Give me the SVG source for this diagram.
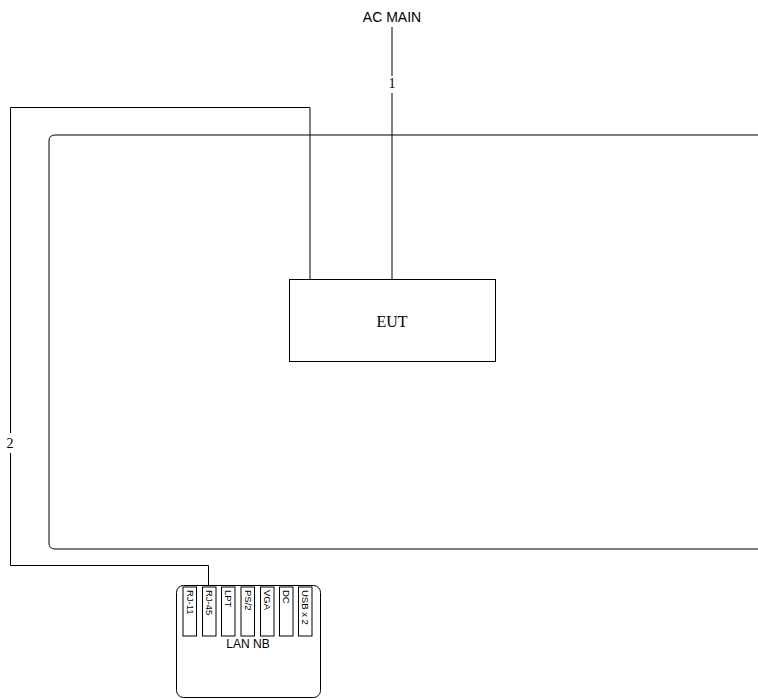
<svg xmlns="http://www.w3.org/2000/svg" width="758" height="699" viewBox="0 0 758 699">
<style>
.ln{fill:none;stroke:#000;stroke-width:1}
.bx{fill:#fff;stroke:#000;stroke-width:1}
.sans{font-family:"Liberation Sans",Arial,sans-serif;fill:#000}
.serif{font-family:"Liberation Serif","Times New Roman",serif;fill:#000}
.port{font-family:"Liberation Sans",Arial,sans-serif;font-size:9.5px;fill:#000}
</style>
<rect width="758" height="699" fill="#fff"/>
<g id="room">
<path class="ln" d="M770,135 H55 Q49,135 49,141 V543 Q49,549 55,549 H770" stroke="#333"/>
</g>
<g id="connectors">
<path class="ln" d="M392,27 V76 M392,93 V279"/>
<text class="serif" x="392" y="88" font-size="14" text-anchor="middle">1</text>
<path class="ln" d="M310,279 V107.5 H10.5 V433 M10.5,453 V565.5 H208.5 V586"/>
<text class="serif" x="10" y="448" font-size="14" text-anchor="middle">2</text>
</g>
<g id="ac-main">
<text class="sans" x="392" y="22" font-size="14" text-anchor="middle">AC MAIN</text>
</g>
<g id="eut">
<rect class="bx" x="289.5" y="279.5" width="206" height="82"/>
<text class="serif" x="392" y="327" font-size="16" text-anchor="middle">EUT</text>
</g>
<g id="lan-nb">
<rect class="bx" x="176.5" y="585.5" width="144" height="112" rx="7"/>
<rect class="bx" x="183" y="587" width="13.5" height="49"/>
<rect class="bx" x="202.5" y="587" width="13.5" height="49"/>
<rect class="bx" x="221.5" y="587" width="13.5" height="49"/>
<rect class="bx" x="241" y="587" width="13.5" height="49"/>
<rect class="bx" x="260.5" y="587" width="13.5" height="49"/>
<rect class="bx" x="279.5" y="587" width="13.5" height="49"/>
<rect class="bx" x="298.5" y="587" width="13.5" height="49"/>
<text class="port" transform="translate(186.5,590) rotate(90)">RJ-11</text>
<text class="port" transform="translate(206,590) rotate(90)">RJ-45</text>
<text class="port" transform="translate(225,590) rotate(90)">LPT</text>
<text class="port" transform="translate(244.5,590) rotate(90)">PS/2</text>
<text class="port" transform="translate(264,590) rotate(90)">VGA</text>
<text class="port" transform="translate(283,590) rotate(90)">DC</text>
<text class="port" transform="translate(302,590) rotate(90)">USB x 2</text>
<text class="sans" x="248" y="648" font-size="12" text-anchor="middle">LAN NB</text>
</g>
</svg>
